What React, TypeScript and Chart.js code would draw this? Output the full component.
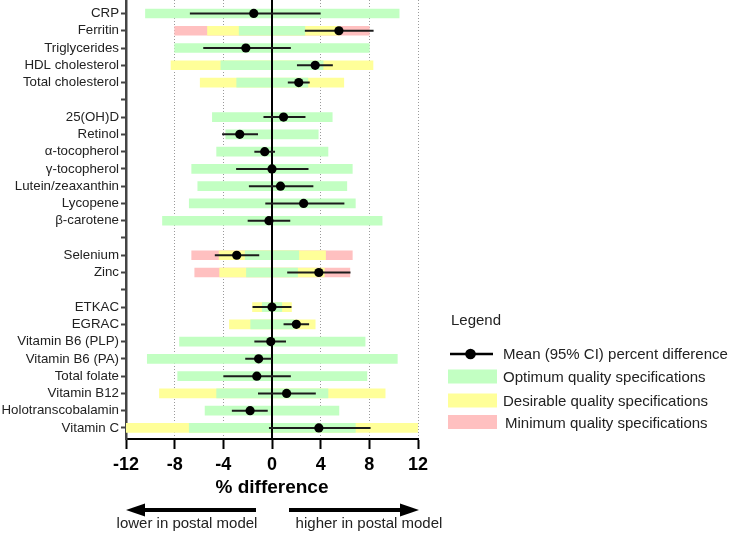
import React, { useEffect, useRef } from 'react';
import { Chart, registerables } from 'chart.js';

Chart.register(...registerables);

const FONT = '"Liberation Sans", Arial, Helvetica, sans-serif';

// Row labels (top to bottom); empty strings are group separators
const rowLabels = [
  'CRP', 'Ferritin', 'Triglycerides', 'HDL cholesterol', 'Total cholesterol',
  '',
  '25(OH)D', 'Retinol', 'α-tocopherol', 'γ-tocopherol', 'Lutein/zeaxanthin', 'Lycopene', 'β-carotene',
  '',
  'Selenium', 'Zinc',
  '',
  'ETKAC', 'EGRAC', 'Vitamin B6 (PLP)', 'Vitamin B6 (PA)', 'Total folate', 'Vitamin B12', 'Holotranscobalamin', 'Vitamin C',
];

// Mean percent difference and 95% CI
const means = [-1.5, 5.5, -2.15, 3.55, 2.2, null, 0.95, -2.65, -0.6, 0.0, 0.7, 2.6, -0.25, null, -2.9, 3.85, null, 0.0, 2.0, -0.1, -1.1, -1.25, 1.2, -1.8, 3.85];
const ciLow = [-6.75, 2.7, -5.65, 2.05, 1.3, null, -0.7, -4.1, -1.45, -2.95, -1.9, -0.55, -2.0, null, -4.7, 1.25, null, -1.6, 0.95, -1.45, -2.2, -4.0, -1.15, -3.3, -0.25];
const ciHigh = [4.0, 8.35, 1.55, 5.0, 3.1, null, 2.75, -1.15, 0.25, 3.0, 3.4, 5.95, 1.5, null, -1.05, 6.45, null, 1.6, 3.05, 1.15, 0.0, 1.55, 3.6, -0.35, 8.1];

// Quality specification ranges
const optLow = [-10.4, -2.7, -8.0, -4.2, -2.9, null, -4.9, -3.8, -4.55, -6.6, -6.1, -6.8, -9.0, null, -2.2, -2.1, null, -0.8, -1.75, -7.6, -10.25, -7.75, -4.55, -5.5, -6.8];
const optHigh = [10.45, 2.7, 8.0, 4.2, 2.95, null, 4.95, 3.8, 4.6, 6.6, 6.15, 6.85, 9.05, null, 2.2, 2.1, null, 0.8, 1.8, 7.65, 10.3, 7.8, 4.6, 5.5, 6.85];
const desLow = [null, -5.3, null, -8.3, -5.9, null, null, null, null, null, null, null, null, null, -4.35, -4.3, null, -1.6, -3.5, null, null, null, -9.25, null, -12];
const desHigh = [null, 5.6, null, 8.3, 5.9, null, null, null, null, null, null, null, null, null, 4.4, 4.3, null, 1.6, 3.55, null, null, null, 9.3, null, 12];
const minLow = [null, -8.0, null, null, null, null, null, null, null, null, null, null, null, null, -6.6, -6.35, null, null, null, null, null, null, null, null, null];
const minHigh = [null, 8.0, null, null, null, null, null, null, null, null, null, null, null, null, 6.6, 6.4, null, null, null, null, null, null, null, null, null];

const xTicks = [-12, -8, -4, 0, 4, 8, 12];

const GREEN = 'rgb(194,255,194)';
const YELLOW = 'rgb(255,255,153)';
const RED = 'rgb(255,192,192)';

const Y_MIN = -0.78;
const Y_MAX = 24.64;

function bandData(lo: (number | null)[], hi: (number | null)[]) {
  const out: any[] = [];
  lo.forEach((v, i) => {
    if (v != null && hi[i] != null) out.push({ x: [v, hi[i]], y: i });
  });
  return out;
}

function ciData() {
  const out: any[] = [];
  ciLow.forEach((v, i) => {
    if (v != null && ciHigh[i] != null) {
      out.push({ x: v, y: i });
      out.push({ x: ciHigh[i], y: i });
      out.push({ x: ciHigh[i], y: null });
    }
  });
  return out;
}

function pointData() {
  const out: any[] = [];
  means.forEach((v, i) => {
    if (v != null) out.push({ x: v, y: i });
  });
  return out;
}

const extrasPlugin = {
  id: 'extras',
  afterDraw(chart: any) {
    const ctx = chart.ctx as CanvasRenderingContext2D;
    ctx.save();
    // Legend
    ctx.fillStyle = '#222';
    ctx.textBaseline = 'alphabetic';
    ctx.textAlign = 'left';
    ctx.font = `15px ${FONT}`;
    ctx.fillText('Legend', 451, 324.5);

    ctx.strokeStyle = '#000';
    ctx.lineWidth = 2.5;
    ctx.beginPath();
    ctx.moveTo(450, 354);
    ctx.lineTo(493, 354);
    ctx.stroke();
    ctx.fillStyle = '#000';
    ctx.beginPath();
    ctx.arc(470.5, 354, 5.3, 0, Math.PI * 2);
    ctx.fill();

    ctx.fillStyle = GREEN;
    ctx.fillRect(448, 369.5, 49, 14);
    ctx.fillStyle = YELLOW;
    ctx.fillRect(448, 393.5, 49, 14);
    ctx.fillStyle = RED;
    ctx.fillRect(448, 415, 49, 14);

    ctx.fillStyle = '#222';
    ctx.fillText('Mean (95% CI) percent difference', 503, 358.5);
    ctx.fillText('Optimum quality specifications', 503, 382);
    ctx.fillText('Desirable quality specifications', 503, 406);
    ctx.fillText('Minimum quality specifications', 505, 427.5);

    // Direction arrows
    const ay = 510;
    ctx.fillStyle = '#000';
    ctx.fillRect(144, ay - 2, 112, 4);
    ctx.beginPath();
    ctx.moveTo(126, ay);
    ctx.lineTo(145, ay - 6.5);
    ctx.lineTo(145, ay + 6.5);
    ctx.closePath();
    ctx.fill();

    ctx.fillRect(289, ay - 2, 112, 4);
    ctx.beginPath();
    ctx.moveTo(419, ay);
    ctx.lineTo(400, ay - 6.5);
    ctx.lineTo(400, ay + 6.5);
    ctx.closePath();
    ctx.fill();

    ctx.fillStyle = '#222';
    ctx.textAlign = 'center';
    ctx.textBaseline = 'middle';
    ctx.font = `15px ${FONT}`;
    ctx.fillText('lower in postal model', 187, 524);
    ctx.fillText('higher in postal model', 369, 524);
    ctx.restore();
  },
};

export default function App() {
  const canvasRef = useRef<HTMLCanvasElement | null>(null);

  useEffect(() => {
    if (!canvasRef.current) return;
    const chart = new Chart(canvasRef.current, {
      type: 'scatter',
      data: {
        datasets: [
          { type: 'bar', indexAxis: 'y', data: bandData(minLow, minHigh), backgroundColor: RED, borderWidth: 0, barThickness: 9, grouped: false, order: 6 } as any,
          { type: 'bar', indexAxis: 'y', data: bandData(desLow, desHigh), backgroundColor: YELLOW, borderWidth: 0, barThickness: 9, grouped: false, order: 5 } as any,
          { type: 'bar', indexAxis: 'y', data: bandData(optLow, optHigh), backgroundColor: GREEN, borderWidth: 0, barThickness: 9, grouped: false, order: 4 } as any,
          { type: 'line', data: [{ x: 0, y: Y_MIN }, { x: 0, y: Y_MAX }], borderColor: '#000', borderWidth: 2, pointRadius: 0, showLine: true, order: 3 } as any,
          { type: 'line', data: ciData(), borderColor: '#1c1c1c', borderWidth: 2, pointRadius: 0, showLine: true, spanGaps: false, order: 2 } as any,
          { type: 'scatter', data: pointData(), backgroundColor: '#000', borderColor: '#000', borderWidth: 0, pointRadius: 4.6, order: 1 } as any,
        ],
      },
      options: {
        animation: false,
        responsive: false,
        events: [],
        layout: { autoPadding: false, padding: { left: 0, right: 315, top: 0, bottom: 0 } },
        plugins: { legend: { display: false }, tooltip: { enabled: false } },
        scales: {
          x: {
            type: 'linear', position: 'bottom', min: -12, max: 12, offset: false,
            afterFit: (s: any) => { s.height = 95; s.paddingLeft = 0; s.paddingRight = 0; },
            afterBuildTicks: (s: any) => { s.ticks = xTicks.map((v) => ({ value: v })); },
            ticks: { autoSkip: false, maxRotation: 0, padding: 5, color: '#000', font: { family: FONT, size: 18, weight: 'bold' } },
            grid: {
              offset: false,
              color: (c: any) => (c.tick && (c.tick.value === 0 || c.tick.value === -12) ? 'rgba(0,0,0,0)' : '#9a9a9a'),
              lineWidth: 1, drawTicks: true, tickLength: 10, tickColor: '#000', tickWidth: 2,
            },
            border: { display: true, color: '#000', width: 2, dash: [1, 2] },
            title: { display: true, text: '% difference', color: '#000', font: { family: FONT, size: 19, weight: 'bold' }, padding: { top: 0, bottom: 35 } },
          } as any,
          y: {
            type: 'linear', position: 'left', reverse: true, min: Y_MIN, max: Y_MAX, offset: false,
            afterFit: (s: any) => { s.width = 126; s.paddingTop = 0; s.paddingBottom = 0; },
            afterBuildTicks: (s: any) => { s.ticks = rowLabels.map((_, i) => ({ value: i })); },
            ticks: { autoSkip: false, padding: 2, color: '#222', font: { family: FONT, size: 13.3 }, callback: (_v: any, i: number) => rowLabels[i] ?? '' },
            grid: { offset: false, drawOnChartArea: false, drawTicks: true, tickLength: 5, tickColor: '#444', tickWidth: 2 },
            border: { display: true, color: '#444', width: 2.5 },
          } as any,
        },
      },
      plugins: [extrasPlugin],
    } as any);
    return () => chart.destroy();
  }, []);

  return (
    <div style={{ position: 'absolute', left: 0, top: 0, width: 733, height: 534, background: '#fff' }}>
      <canvas ref={canvasRef} width={733} height={534} style={{ display: 'block', width: 733, height: 534 }} />
    </div>
  );
}
